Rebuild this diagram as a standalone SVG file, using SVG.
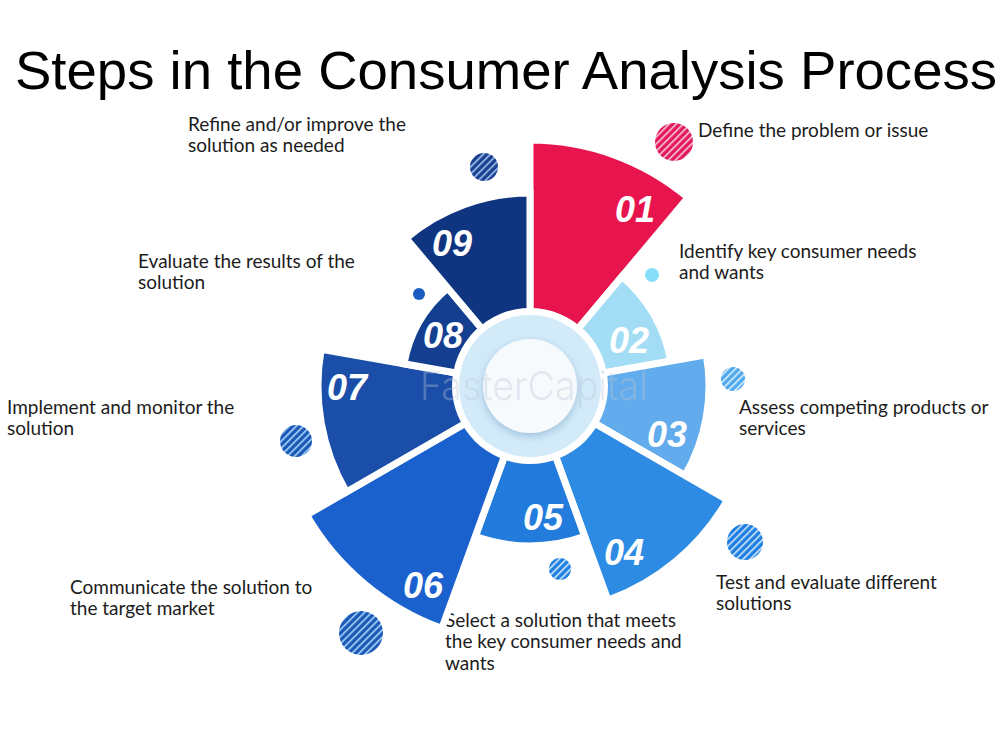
<svg xmlns="http://www.w3.org/2000/svg" width="1000" height="750" viewBox="0 0 1000 750">
  <defs>
    <style>
      .title { font-family: "Liberation Sans", Arial, sans-serif; font-size: 54px; fill: #000; }
      .lbl { font-family: Lato, "Open Sans", sans-serif; font-size: 19px; fill: #1c1c1c; }
      .num { font-family: "Liberation Sans", Arial, sans-serif; font-size: 36px; font-weight: bold; font-style: italic; fill: #fff; text-anchor: middle; }
      .sec { stroke: #fff; stroke-width: 7; stroke-linejoin: miter; }
      .wm { font-family: Inter, "Liberation Sans", sans-serif; font-size: 40px; font-weight: 300; fill: #b9c6d6; opacity: 0.35; }
    </style>
    <pattern id="hPink" width="5" height="5" patternUnits="userSpaceOnUse" patternTransform="rotate(-45)">
      <rect width="5" height="5" fill="#e2195a"/>
      <rect width="5" height="1.6" fill="#f7c6d6"/>
    </pattern>
    <pattern id="hNavy" width="5" height="5" patternUnits="userSpaceOnUse" patternTransform="rotate(-45)">
      <rect width="5" height="5" fill="#1c3f8e"/>
      <rect width="5" height="1.6" fill="#9fc6f0"/>
    </pattern>
    <pattern id="hLight" width="5" height="5" patternUnits="userSpaceOnUse" patternTransform="rotate(-45)">
      <rect width="5" height="5" fill="#4fa7ee"/>
      <rect width="5" height="1.6" fill="#d8eefc"/>
    </pattern>
    <pattern id="hMid" width="5" height="5" patternUnits="userSpaceOnUse" patternTransform="rotate(-45)">
      <rect width="5" height="5" fill="#1f7fe0"/>
      <rect width="5" height="1.6" fill="#cfe7fb"/>
    </pattern>
    <pattern id="hDeep" width="5" height="5" patternUnits="userSpaceOnUse" patternTransform="rotate(-45)">
      <rect width="5" height="5" fill="#1c58b8"/>
      <rect width="5" height="1.6" fill="#a8d6f6"/>
    </pattern>
    <filter id="shadow" x="-30%" y="-30%" width="160%" height="160%">
      <feDropShadow dx="0" dy="3" stdDeviation="4" flood-color="#6f9cc4" flood-opacity="0.55"/>
    </filter>
  </defs>

  <rect width="1000" height="750" fill="#fff"/>

  <text class="title" x="15" y="89" textLength="982" lengthAdjust="spacingAndGlyphs">Steps in the Consumer Analysis Process</text>

  <g id="connectors"></g>

  <!-- decorative dots -->
  <g id="decor">
    <circle cx="674" cy="142" r="19" fill="url(#hPink)"/>
    <circle cx="484" cy="167" r="14" fill="url(#hNavy)"/>
    <circle cx="419" cy="294" r="6" fill="#1a5cc0"/>
    <circle cx="652" cy="275" r="7" fill="#86def7"/>
    <circle cx="733" cy="379" r="12" fill="url(#hLight)"/>
    <circle cx="745" cy="542" r="18" fill="url(#hMid)"/>
    <circle cx="296" cy="441" r="16" fill="url(#hDeep)"/>
    <circle cx="361" cy="633" r="22" fill="url(#hDeep)"/>
    <circle cx="560" cy="569" r="11" fill="url(#hMid)"/>
  </g>

  <g id="step01">
    <path class="sec" fill="#e8144e" d="M530,386 L530,140 A246,246 0 0 1 688.1,197.6 Z"/>
    <text class="num" x="635" y="222">01</text>
    <text class="lbl" x="698" y="137">Define the problem or issue</text>
  </g>
  <g id="step02">
    <path class="sec" fill="#a3ddf5" d="M530,386 L622,276.5 A143,143 0 0 1 670.8,361.2 Z"/>
    <text class="num" x="629" y="353">02</text>
    <text class="lbl" x="679" y="258">Identify key consumer needs</text>
    <text class="lbl" x="679" y="279">and wants</text>
  </g>
  <g id="step03">
    <path class="sec" fill="#62abec" d="M530,386 L706.3,354.9 A179,179 0 0 1 685.0,475.5 Z"/>
    <text class="num" x="667" y="447">03</text>
    <text class="lbl" x="739" y="414">Assess competing products or</text>
    <text class="lbl" x="739" y="435">services</text>
  </g>
  <g id="step04">
    <path class="sec" fill="#2d8be3" d="M530,386 L727.5,500 A228,228 0 0 1 608,600.3 Z"/>
    <text class="num" x="624" y="565">04</text>
    <text class="lbl" x="716" y="589">Test and evaluate different</text>
    <text class="lbl" x="716" y="610">solutions</text>
  </g>
  <g id="step05">
    <path class="sec" fill="#237cdc" d="M530,386 L584.7,536.3 A160,160 0 0 1 475.3,536.3 Z"/>
    <text class="num" x="543" y="530">05</text>
    <text class="lbl" x="445" y="627">Select a solution that meets</text>
    <text class="lbl" x="445" y="648">the key consumer needs and</text>
    <text class="lbl" x="445" y="670">wants</text>
  </g>
  <g id="step06">
    <path class="sec" fill="#1a61cd" d="M530,386 L441.8,628.4 A258,258 0 0 1 306.6,515 Z"/>
    <text class="num" x="423" y="598">06</text>
    <text class="lbl" x="70" y="594">Communicate the solution to</text>
    <text class="lbl" x="70" y="615">the target market</text>
  </g>
  <g id="step07">
    <path class="sec" fill="#1a4ea8" d="M530,386 L346.4,492 A212,212 0 0 1 321.2,349.2 Z"/>
    <text class="num" x="347" y="400">07</text>
    <text class="lbl" x="7" y="414">Implement and monitor the</text>
    <text class="lbl" x="7" y="435">solution</text>
  </g>
  <g id="step08">
    <path class="sec" fill="#143f91" d="M530,386 L404,363.8 A128,128 0 0 1 447.7,288 Z"/>
    <text class="num" x="443" y="348">08</text>
    <text class="lbl" x="138" y="268">Evaluate the results of the</text>
    <text class="lbl" x="138" y="289">solution</text>
  </g>
  <g id="step09">
    <path class="sec" fill="#0f3580" d="M530,386 L406,238.2 A193,193 0 0 1 530,193 Z"/>
    <text class="num" x="452" y="256">09</text>
    <text class="lbl" x="188" y="131">Refine and/or improve the</text>
    <text class="lbl" x="188" y="152">solution as needed</text>
  </g>

  <g id="hub">
    <circle cx="530" cy="386" r="78" fill="#fff"/>
    <circle cx="530" cy="386" r="71" fill="#d3ebf9"/>
    <circle cx="530" cy="386" r="47" fill="#f7fafd" filter="url(#shadow)"/>
  </g>

  <text class="wm" x="420" y="400" textLength="228" lengthAdjust="spacingAndGlyphs">FasterCapital</text>
</svg>
